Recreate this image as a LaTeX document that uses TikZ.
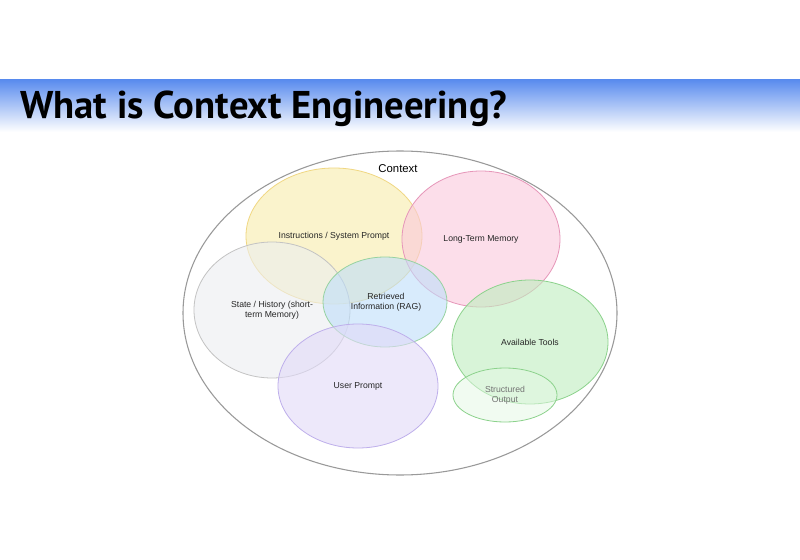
\documentclass[tikz,border=0pt]{standalone}
\usepackage{fontspec}
\setmainfont{Liberation Sans}
\newfontfamily\titlefont{PT Sans}
\begin{document}
\begin{tikzpicture}[x=0.75pt,y=-0.75pt,
  blob/.style 2 args={draw=#2, fill=#1, fill opacity=0.6, line width=0.6pt},
  lbl/.style={font=\fontsize{6.5}{7.5}\selectfont, align=center, text=black!85}]
\useasboundingbox (0,0) rectangle (800,560);
\fill[white] (0,0) rectangle (800,560);
\shade[top color={rgb,255:red,90;green,140;blue,238}, bottom color=white] (0,80) rectangle (800,132);
\node[anchor=base west, font=\titlefont\bfseries\fontsize{29}{32}\selectfont, inner sep=0] (title) at (20,118) {What is Context Engineering?};
\draw[gray!80, line width=0.8pt] (400,313) ellipse (217 and 162);
\definecolor{fy}{RGB}{248,236,170}\definecolor{sy}{RGB}{240,215,130}
\definecolor{fp}{RGB}{250,200,220}\definecolor{sp}{RGB}{230,150,185}
\definecolor{fg}{RGB}{236,238,240}\definecolor{sg}{RGB}{195,195,195}
\definecolor{fb}{RGB}{190,222,250}\definecolor{sb}{RGB}{150,210,160}
\definecolor{fv}{RGB}{225,218,248}\definecolor{sv}{RGB}{190,175,235}
\definecolor{fgr}{RGB}{190,238,190}\definecolor{sgr}{RGB}{140,210,140}
\draw[blob={fy}{sy}] (334,236) ellipse (88 and 68);
\draw[blob={fp}{sp}] (481,239) ellipse (79 and 68);
\draw[blob={fg}{sg}] (272,310) ellipse (78 and 68);
\draw[blob={fb}{sb}] (385,302) ellipse (62 and 45);
\draw[blob={fv}{sv}] (358,386) ellipse (80 and 62);
\draw[blob={fgr}{sgr}] (530,342) ellipse (78 and 62);
\draw[draw=sgr, fill=fgr!40, fill opacity=0.5, line width=0.6pt] (505,395) ellipse (52 and 27);
\node[font=\fontsize{8.5}{10}\selectfont] (ctx) at (398,169) {Context};
\node[lbl] (ins) at (334,236) {Instructions / System Prompt};
\node[lbl] (ltm) at (481,239) {Long-Term Memory};
\node[lbl] (st) at (272,310) {State / History (short-\\term Memory)};
\node[lbl] (rag) at (386,302) {Retrieved\\Information (RAG)};
\node[lbl] (up) at (358,386) {User Prompt};
\node[lbl] (at) at (530,342) {Available Tools};
\node[lbl, text=black!55] (so) at (505,395) {Structured\\Output};
\end{tikzpicture}
\end{document}
